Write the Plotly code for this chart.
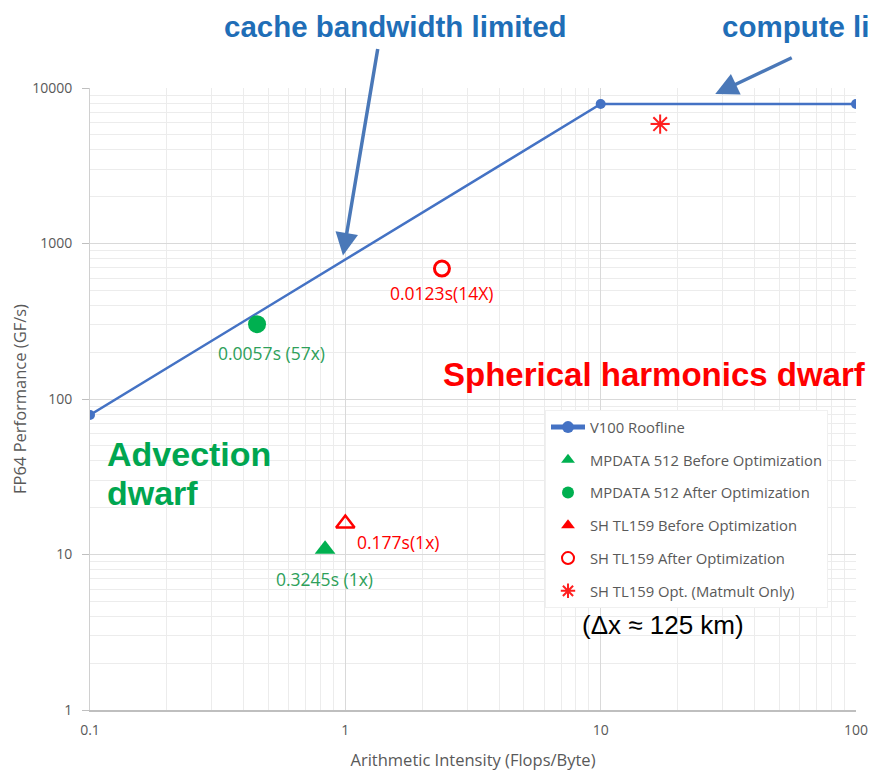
import math
import plotly.graph_objects as go

# ---- data ----
roof_x = [0.1, 10, 100]
roof_y = [78.9, 7890, 7890]

mp_before_x = [0.833]
mp_before_y = [10.8]
mp_after_x = [0.451]
mp_after_y = [303]

sh_before_x = [1.0]
sh_before_y = [15.8]
sh_after_x = [2.39]
sh_after_y = [690]
sh_opt_x = [17.1]
sh_opt_y = [5860]

x_ticks = [0.1, 1, 10, 100]
x_tick_text = ["0.1", "1", "10", "100"]
y_ticks = [1, 10, 100, 1000, 10000]
y_tick_text = ["1", "10", "100", "1000", "10000"]

x_minor = [m * 10.0 ** e for e in (-1, 0, 1) for m in range(2, 10)]
y_minor = [m * 10.0 ** e for e in (0, 1, 2, 3) for m in range(2, 10)]

BLUE = "#4472C4"
GREEN = "#00B050"
RED = "#FF0000"
GREY = "#595959"
FONT = "Open Sans, sans-serif"
BOLD = "Liberation Sans, Arial, sans-serif"

# page body offset and plot area (window pixels)
OFF = 8
W, H = 877 - OFF, 771 - OFF
PX0, PX1, PY0, PY1 = 90, 856, 88, 710


def px(x):
    return (x - PX0) / (PX1 - PX0)


def py(y):
    return (PY1 - y) / (PY1 - PY0)


fig = go.Figure()

fig.add_trace(go.Scatter(x=roof_x, y=roof_y, mode="lines+markers", name="V100 Roofline",
                         line=dict(color=BLUE, width=2.5), marker=dict(size=10, color=BLUE),
                         legendgroup="a"))
fig.add_trace(go.Scatter(x=mp_before_x, y=mp_before_y, mode="markers", name="MPDATA 512 Before Optimization",
                         marker=dict(symbol="triangle-up", size=18, color=GREEN), legendgroup="b"))
fig.add_trace(go.Scatter(x=mp_after_x, y=mp_after_y, mode="markers", name="MPDATA 512 After Optimization",
                         marker=dict(symbol="circle", size=18, color=GREEN), legendgroup="c"))
# SH before: hollow on the chart, filled in the legend
fig.add_trace(go.Scatter(x=sh_before_x, y=sh_before_y, mode="markers", name="SH TL159 Before Optimization",
                         marker=dict(symbol="triangle-up-open", size=16, color=RED, line=dict(width=2.5)),
                         showlegend=False, legendgroup="d"))
fig.add_trace(go.Scatter(x=[None], y=[None], mode="markers", name="SH TL159 Before Optimization",
                         marker=dict(symbol="triangle-up", size=11, color=RED), legendgroup="d"))
fig.add_trace(go.Scatter(x=sh_after_x, y=sh_after_y, mode="markers", name="SH TL159 After Optimization",
                         marker=dict(symbol="circle-open", size=15, color=RED, line=dict(width=3)),
                         legendgroup="e"))
fig.add_trace(go.Scatter(x=sh_opt_x, y=sh_opt_y, mode="markers", name="SH TL159 Opt. (Matmult Only)",
                         marker=dict(symbol="asterisk-open", size=16, color="#FF2020", line=dict(width=2)),
                         legendgroup="f"))

L = math.log10
LBL = 17.5
ann = []
# data labels
ann.append(dict(x=L(0.516), y=L(198), xref="x", yref="y", text="0.0057s (57x)", showarrow=False,
                font=dict(family=FONT, size=LBL, color="#2EA05A")))
ann.append(dict(x=L(0.825), y=L(7.0), xref="x", yref="y", text="0.3245s (1x)", showarrow=False,
                font=dict(family=FONT, size=LBL, color="#2EA05A")))
ann.append(dict(x=L(1.608), y=L(12.12), xref="x", yref="y", text="0.177s(1x)", showarrow=False,
                font=dict(family=FONT, size=LBL, color=RED)))
ann.append(dict(x=L(2.38), y=L(480), xref="x", yref="y", text="0.0123s(14X)", showarrow=False,
                font=dict(family=FONT, size=LBL, color=RED)))
# big labels
ann.append(dict(x=px(441), y=py(374), xref="paper", yref="paper", xanchor="left", yanchor="middle",
                text="<b>Spherical harmonics dwarf</b>", showarrow=False,
                font=dict(family=BOLD, size=33, color=RED)))
ann.append(dict(x=px(105), y=py(454), xref="paper", yref="paper", xanchor="left", yanchor="middle",
                text="<b>Advection</b>", showarrow=False,
                font=dict(family=BOLD, size=34, color="#00A650")))
ann.append(dict(x=px(105), y=py(493), xref="paper", yref="paper", xanchor="left", yanchor="middle",
                text="<b>dwarf</b>", showarrow=False,
                font=dict(family=BOLD, size=34, color="#00A650")))
ann.append(dict(x=px(663), y=py(625), xref="paper", yref="paper", xanchor="center", yanchor="middle",
                text="(Δx ≈ 125 km)", showarrow=False,
                font=dict(family=BOLD, size=26, color="black")))
# top texts
ann.append(dict(x=px(395), y=py(27), xref="paper", yref="paper", xanchor="center", yanchor="middle",
                text="<b>cache bandwidth limited</b>", showarrow=False,
                font=dict(family=BOLD, size=29.5, color="#1F6EB7")))
ann.append(dict(x=px(720), y=py(27), xref="paper", yref="paper", xanchor="left", yanchor="middle",
                text="<b>compute limited</b>", showarrow=False,
                font=dict(family=BOLD, size=29.5, color="#1F6EB7")))
# arrows
ann.append(dict(x=L(0.979), y=L(837), xref="x", yref="y", ax=35, ay=-208, text="", showarrow=True,
                arrowhead=2, arrowsize=1.3, arrowwidth=3.5, arrowcolor="#4A78B8"))
ann.append(dict(x=L(28.1), y=L(9150), xref="x", yref="y", ax=78, ay=-37, text="", showarrow=True,
                arrowhead=2, arrowsize=1.3, arrowwidth=3.5, arrowcolor="#4A78B8"))

fig.update_layout(
    width=W, height=H,
    margin=dict(l=PX0 - OFF, r=W - (PX1 - OFF), t=PY0 - OFF, b=H - (PY1 - OFF), autoexpand=False),
    paper_bgcolor="white", plot_bgcolor="white",
    font=dict(family=FONT, size=13, color=GREY),
    annotations=ann,
    showlegend=True,
    legend=dict(x=px(545), y=py(410), xanchor="left", yanchor="top",
                bgcolor="white", bordercolor="#F0F0F0", borderwidth=1,
                font=dict(family=FONT, size=14.8, color=GREY), tracegroupgap=10.5,
                itemwidth=34, itemsizing="constant"),
)
fig.update_xaxes(type="log", range=[-1, 2], tickvals=x_ticks, ticktext=x_tick_text, automargin=False,
                 showgrid=True, gridcolor="#D9D9D9", gridwidth=1,
                 minor=dict(tickvals=x_minor, showgrid=True, gridcolor="#ECECEC", gridwidth=1, ticks=""),
                 showline=True, linecolor="#BFBFBF", linewidth=2, ticks="", zeroline=False, mirror=False,
                 ticklabelstandoff=6,
                 tickfont=dict(family=FONT, size=14, color=GREY),
                 title=dict(text="Arithmetic Intensity (Flops/Byte)", font=dict(family=FONT, size=16.5, color=GREY),
                            standoff=19))
fig.update_yaxes(type="log", range=[0, 4], tickvals=y_ticks, ticktext=y_tick_text, automargin=False,
                 showgrid=True, gridcolor="#D9D9D9", gridwidth=1,
                 minor=dict(tickvals=y_minor, showgrid=True, gridcolor="#ECECEC", gridwidth=1, ticks=""),
                 showline=True, linecolor="#D0D0D0", linewidth=1, ticks="outside", ticklen=7,
                 tickcolor="#BFBFBF", zeroline=False, ticklabelstandoff=7,
                 tickfont=dict(family=FONT, size=14, color=GREY),
                 title=dict(text="FP64 Performance (GF/s)", font=dict(family=FONT, size=16.5, color=GREY),
                            standoff=13))

fig.write_html("out.html")
